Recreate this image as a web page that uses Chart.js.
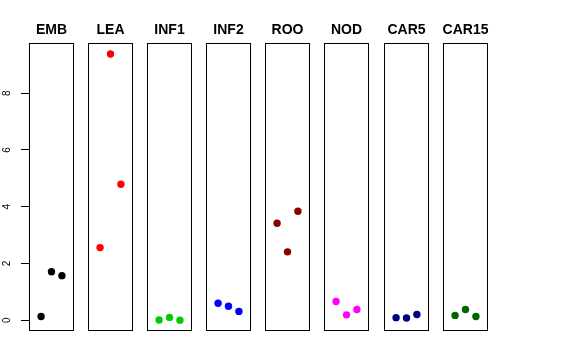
<!DOCTYPE html>
<html>
<head>
<meta charset="utf-8">
<script src="https://cdn.jsdelivr.net/npm/chart.js@4"></script>
<style>
  body { margin: 0; background: #fff; }
  #wrap { position: relative; width: 576px; height: 360px; overflow: hidden; }
  .panel { position: absolute; top: 21px; height: 310px; }
</style>
</head>
<body>
<div id="wrap"></div>
<script>
/*
DATA
*/
const tissues = ['EMB', 'LEA', 'INF1', 'INF2', 'ROO', 'NOD', 'CAR5', 'CAR15'];
const replicates = [1, 2, 3];

const embValues = [0.13, 1.71, 1.57];
const leaValues = [2.56, 9.38, 4.79];
const inf1Values = [0.01, 0.10, 0.00];
const inf2Values = [0.60, 0.49, 0.31];
const rooValues = [3.42, 2.41, 3.84];
const nodValues = [0.66, 0.19, 0.38];
const car5Values = [0.09, 0.08, 0.20];
const car15Values = [0.17, 0.38, 0.13];

const yTicks = [0, 2, 4, 6, 8];

const tissueColors = ['#000000', '#ff0000', '#00cd00', '#0000ff',
                      '#8b0000', '#ff00ff', '#000080', '#006400'];
const tissueValues = [embValues, leaValues, inf1Values, inf2Values,
                      rooValues, nodValues, car5Values, car15Values];

/*
LAYOUT VARS
*/
const wrap = document.getElementById('wrap');
const panelLefts = [29, 88, 147, 206, 265, 324, 384, 443];
const panelWidth = 45;
const axisWidth = 29;
const side = 8; // spare room so long titles are not cut off

// draws the box round each panel and its title above it
const boxAndTitle = {
  id: 'boxAndTitle',
  afterDraw(chart, args, opts) {
    const { ctx, chartArea: a } = chart;
    ctx.save();
    ctx.strokeStyle = '#000';
    ctx.lineWidth = 1;
    ctx.strokeRect(a.left + 0.5, a.top + 0.5, a.right - a.left - 1, a.bottom - a.top - 1);
    ctx.fillStyle = '#000';
    ctx.font = 'bold 14px "Liberation Sans", Arial, sans-serif';
    ctx.textAlign = 'center';
    ctx.textBaseline = 'alphabetic';
    ctx.fillText(opts.text, (a.left + a.right) / 2, a.top - 9);
    ctx.restore();
  }
};

tissues.forEach((name, i) => {
  const withAxis = i === 0;
  let div = document.createElement('div');
  div.className = 'panel';
  let left = withAxis ? 0 : panelLefts[i] - side;
  let width = withAxis ? panelLefts[i] + panelWidth + side : panelWidth + 2 * side;
  div.style.left = left + 'px';
  div.style.width = width + 'px';
  let canvas = document.createElement('canvas');
  div.append(canvas);
  wrap.append(div);

  let yAxis = {
    type: 'linear',
    min: -0.38,
    max: 9.77,
    display: withAxis
  };
  if (withAxis) {
    Object.assign(yAxis, {
      afterBuildTicks: s => { s.ticks = yTicks.map(v => ({ value: v })); },
      afterFit: s => { s.width = axisWidth; s.paddingTop = 0; s.paddingBottom = 0; },
      border: { display: false },
      grid: { drawOnChartArea: false, drawTicks: true, tickLength: 8, color: '#000' },
      ticks: {
        minRotation: 90,
        maxRotation: 90,
        crossAlign: 'center',
        padding: 11,
        color: '#000',
        font: { family: '"Liberation Sans", Arial, sans-serif', size: 10 }
      }
    });
  }

  new Chart(canvas, {
    type: 'scatter',
    data: {
      datasets: [{
        data: replicates.map((r, k) => ({ x: r, y: tissueValues[i][k] })),
        backgroundColor: tissueColors[i],
        borderWidth: 0,
        pointRadius: 3.7,
        pointHoverRadius: 3.7
      }]
    },
    options: {
      responsive: true,
      maintainAspectRatio: false,
      animation: false,
      clip: false,
      layout: {
        autoPadding: false,
        padding: { top: 22, left: withAxis ? 0 : side, right: side, bottom: 0 }
      },
      plugins: {
        legend: { display: false },
        tooltip: { enabled: false },
        boxAndTitle: { text: name }
      },
      scales: {
        x: { type: 'linear', min: -0.16, max: 4.16, display: false },
        y: yAxis
      }
    },
    plugins: [boxAndTitle]
  });
});
</script>
</body>
</html>
